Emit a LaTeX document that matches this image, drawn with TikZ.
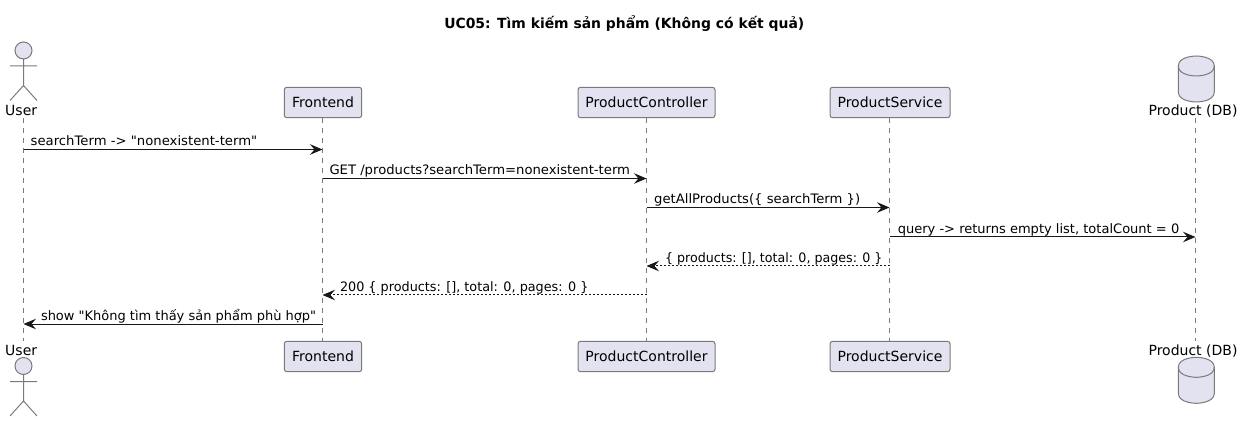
\documentclass[tikz,border=0pt]{standalone}
\usepackage{fontspec}
\usepackage{graphicx}
\newfontfamily\djv{DejaVu Sans}
\usetikzlibrary{arrows.meta,calc}
\definecolor{partfill}{HTML}{E2E2F0}
\definecolor{ink}{HTML}{181818}
\definecolor{edge}{HTML}{7A7A7A}
\newcommand{\wfit}[2]{\resizebox{#1pt}{\height}{#2}}
\tikzset{
  x=1pt,y=-1pt,
  every node/.style={font=\djv\fontsize{14}{16}\selectfont,text=black,inner sep=0pt,outer sep=0pt},
  part/.style={draw=edge,line width=1pt,fill=partfill,rounded corners=2.5pt,minimum height=30.4pt,anchor=center,text height=12.4pt,text depth=2pt},
  figure/.style={draw=edge,line width=1pt},
  headc/.style={draw=edge,line width=1pt,fill=partfill,circle,minimum size=17pt},
  life/.style={draw=edge,line width=1pt,dash pattern=on 5pt off 5pt},
  msg/.style={draw=ink,line width=1pt,-{Stealth[length=12.5pt,width=10.5pt,inset=4.5pt,fill=ink]}},
  reply/.style={msg,dash pattern=on 2pt off 2pt},
  msgtext/.style={anchor=base west,font=\djv\fontsize{13}{15}\selectfont},
  captext/.style={anchor=base},
}
\newcommand{\actorfig}[3]{% name, x, head y
  \node[headc] (#1) at (#2,#3) {};
  \draw[figure] (#1.south) -- ++(0,26.5) coordinate (#1hip)
    (#2-13.5,#3+15.5) -- (#2+13.5,#3+15.5)
    (#1hip) -- ++(-13.5,15) (#1hip) -- ++(13.5,15);
}
\newcommand{\dbfig}[2]{% x, top y
  \draw[figure,fill=partfill] (#1-18,#2+10) .. controls (#1-18,#2) and (#1,#2) .. (#1,#2)
    .. controls (#1,#2) and (#1+18,#2) .. (#1+18,#2+10)
    -- (#1+18,#2+36) .. controls (#1+18,#2+46) and (#1,#2+46) .. (#1,#2+46)
    .. controls (#1,#2+46) and (#1-18,#2+46) .. (#1-18,#2+36) -- cycle;
  \draw[figure] (#1-18,#2+10) .. controls (#1-18,#2+20) and (#1,#2+20) .. (#1,#2+20)
    .. controls (#1,#2+20) and (#1+18,#2+20) .. (#1+18,#2+10);
}
\begin{document}
\begin{tikzpicture}
\useasboundingbox (0,0) rectangle (1243,422);
\node[captext,font=\djv\fontsize{14}{16}\selectfont\bfseries] (title) at (624.3,28.5) {\wfit{360}{UC05: Tìm kiếm sản phẩm (Không có kết quả)}};

% top participants
\actorfig{uhead}{23.5}{50.5}
\node[captext] (uTop) at (21.2,115.7) {User};
\node[part,minimum width=77.4pt] (fTop) at (323,102.5) {Frontend};
\node[part,minimum width=137pt] (cTop) at (646.5,102.5) {ProductController};
\node[part,minimum width=120pt] (sTop) at (890,102.5) {ProductService};
\dbfig{1196.3}{56}
\node[captext] (dTop) at (1193,115.7) {Product (DB)};

% bottom participants
\node[captext] (uBot) at (21.2,355.7) {User};
\actorfig{ubhead}{23.5}{366}
\node[part,minimum width=77.4pt] (fBot) at (323,356.5) {Frontend};
\node[part,minimum width=137pt] (cBot) at (646.5,356.5) {ProductController};
\node[part,minimum width=120pt] (sBot) at (890,356.5) {ProductService};
\dbfig{1196.3}{357.3}
\node[captext] (dBot) at (1193,355.7) {Product (DB)};

% lifeline x positions
\coordinate (lu) at (23.5,118);
\coordinate (lf) at (322.5,118);
\coordinate (lc) at (646.5,118);
\coordinate (ls) at (889.5,118);
\coordinate (ld) at (1195.5,118);
\coordinate (bot) at (0,341);
\foreach \l in {lu,lf,lc,ls,ld} \draw[life] (\l) -- (\l |- bot);

% rows
\coordinate (r1) at (0,149.5);
\coordinate (r2) at (0,178.5);
\coordinate (r3) at (0,207.5);
\coordinate (r4) at (0,237);
\coordinate (r5) at (0,266);
\coordinate (r6) at (0,295);
\coordinate (r7) at (0,324);

\draw[msg] (lu |- r1) -- (lf |- r1);
\draw[msg] (lf |- r2) -- (lc |- r2);
\draw[msg] (lc |- r3) -- (ls |- r3);
\draw[msg] (ls |- r4) -- (ld |- r4);
\draw[reply] (ls |- r5) -- (lc |- r5);
\draw[reply] (lc |- r6) -- (lf |- r6);
\draw[msg] (lf |- r7) -- (lu |- r7);

\node[msgtext] (t1) at (30.7,145.8) {\wfit{226.5}{searchTerm -> "nonexistent-term"}};
\node[msgtext] (t2) at (329.5,174.8) {\wfit{300.5}{GET /products?searchTerm=nonexistent-term}};
\node[msgtext] (t3) at (654.2,203.8) {\wfit{206}{getAllProducts(\{ searchTerm \})}};
\node[msgtext] (t4) at (897.8,233.2) {\wfit{281.5}{query -> returns empty list, totalCount = 0}};
\node[msgtext] (t5) at (665,262.2) {\wfit{217.5}{\{ products: [], total: 0, pages: 0 \}}};
\node[msgtext] (t6) at (340,291.2) {\wfit{248.5}{200 \{ products: [], total: 0, pages: 0 \}}};
\node[msgtext] (t7) at (41,320.2) {\wfit{275}{show "Không tìm thấy sản phẩm phù hợp"}};
\end{tikzpicture}
\end{document}
